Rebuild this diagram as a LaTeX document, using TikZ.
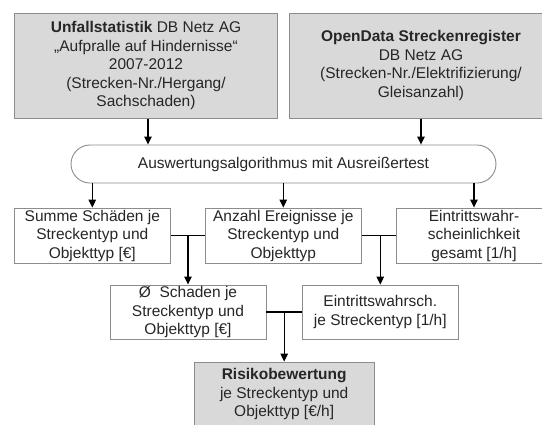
\documentclass[tikz,border=0pt]{standalone}
\usepackage{fontspec}
\setmainfont{Liberation Sans}
\usetikzlibrary{arrows.meta}
\definecolor{boxgray}{HTML}{D9D9D9}
\definecolor{edgegray}{HTML}{8C8C8C}
\definecolor{txt}{HTML}{262626}
\tikzset{
  base/.style={draw=edgegray, line width=0.9pt, align=center, inner sep=0pt,
    text=txt, font=\fontsize{15.5}{18.5}\selectfont, anchor=center},
  graybox/.style={base, fill=boxgray},
  whitebox/.style={base, fill=white},
  stadium/.style={base, fill=white, rounded corners=19pt},
  conn/.style={draw=black, line width=1.1pt},
  arr/.style={conn, -{Triangle[length=8pt,width=7.5pt]}},
}
\begin{document}
\begin{tikzpicture}[x=1pt,y=-1pt]
\clip (0,0) rectangle (542,424);
\fill[white] (0,0) rectangle (542,424);
\node[graybox, minimum width=263pt, minimum height=104.7pt] (TL) at (146,65.7)
  {\textbf{Unfallstatistik} DB Netz AG\\„Aufpralle auf Hindernisse“\\2007-2012\\(Strecken-Nr./Hergang/\\Sachschaden)};
\node[graybox, minimum width=264pt, minimum height=104.7pt] (TR) at (421,65.7)
  {\textbf{OpenData Streckenregister}\\DB Netz AG\\(Strecken-Nr./Elektrifizierung/\\Gleisanzahl)};
\node[stadium, minimum width=425pt, minimum height=38pt] (S) at (283.5,164)
  {Auswertungsalgorithmus mit Ausreißertest};
\node[whitebox, minimum width=156.5pt, minimum height=55pt] (A) at (92.3,235.5)
  {Summe Schäden je\\Streckentyp und\\Objekttyp [€]};
\node[whitebox, minimum width=156.5pt, minimum height=55pt] (B) at (283.3,235.5)
  {Anzahl Ereignisse je\\Streckentyp und\\Objekttyp};
\node[whitebox, minimum width=156pt, minimum height=55pt] (C) at (474,235.5)
  {Eintrittswahr-\\scheinlichkeit\\gesamt [1/h]};
\node[whitebox, minimum width=156pt, minimum height=54pt] (D) at (188,312)
  {Ø~~Schaden je\\Streckentyp und\\Objekttyp [€]};
\node[whitebox, minimum width=156.7pt, minimum height=54pt] (E) at (380.3,312)
  {Eintrittswahrsch.\\je Streckentyp [1/h]};
\node[graybox, minimum width=179.5pt, minimum height=64pt] (F) at (284.2,394)
  {\textbf{Risikobewertung}\\je Streckentyp und\\Objekttyp [€/h]};
% top arrows
\draw[arr] (TL.south -| 148,0) -- (S.north -| 148,0);
\draw[arr] (TR.south) -- (TR.south |- S.north);
% stadium to row 2
\draw[arr] (S.south -| A.north) -- (A.north);
\draw[arr] (S.south -| B.north) -- (B.north);
\draw[arr] (S.south -| C.north) -- (C.north);
% row 2 to row 3
\draw[conn] (A.east) -- (B.west);
\draw[arr] (A.east -| D.north) -- (D.north);
\draw[conn] (B.east) -- (C.west);
\draw[arr] (B.east -| E.north) -- (E.north);
% row 3 to final
\draw[conn] (D.east) -- (E.west);
\draw[arr] (D.east -| F.north) -- (F.north);
\end{tikzpicture}
\end{document}
